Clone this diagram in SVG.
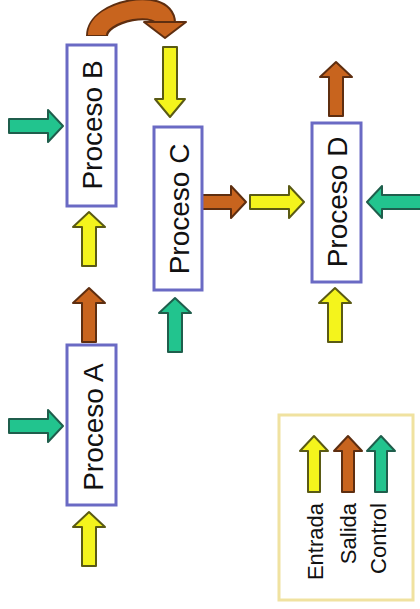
<svg xmlns="http://www.w3.org/2000/svg" xmlns:xlink="http://www.w3.org/1999/xlink" width="420" height="609" viewBox="0 0 420 609">
<style>
.box{fill:#ffffff;stroke:#6a6ac4;stroke-width:3}
.lbl{font-family:"Liberation Sans",Arial,sans-serif;font-size:28px;fill:#111;text-anchor:middle}
.leg{font-family:"Liberation Sans",Arial,sans-serif;font-size:22px;fill:#111;text-anchor:end}
.y{fill:#f4f41c;stroke:#5a5a14;stroke-width:2;stroke-linejoin:round}
.b{fill:#c8641e;stroke:#5e2e10;stroke-width:2;stroke-linejoin:round}
.g{fill:#22c48e;stroke:#1f5e4c;stroke-width:2;stroke-linejoin:round}
</style>
<defs>
<path id="a46" d="M0,0 L16,15 L7,15 L7,46 L-7,46 L-7,15 L-16,15 Z"/>
<path id="a54" d="M0,0 L16,15 L7,15 L7,54 L-7,54 L-7,15 L-16,15 Z"/>
<path id="a70" d="M0,0 L15,18 L7,18 L7,70 L-7,70 L-7,18 L-15,18 Z"/>
<path id="aL" d="M0,0 L14,15 L6,15 L6,56 L-6,56 L-6,15 L-14,15 Z"/>
</defs>
<rect width="420" height="609" fill="#ffffff"/>
<g id="connectors">
<use xlink:href="#a54" class="g" transform="translate(63,126) rotate(90)"/>
<use xlink:href="#a54" class="g" transform="translate(63,426) rotate(90)"/>
<use xlink:href="#a70" class="y" transform="translate(170,117) rotate(180)"/>
<use xlink:href="#a54" class="y" transform="translate(89,212)"/>
<use xlink:href="#a54" class="b" transform="translate(89,288)"/>
<use xlink:href="#a54" class="y" transform="translate(89,512)"/>
<use xlink:href="#a54" class="g" transform="translate(175,298)"/>
<use xlink:href="#a46" class="b" transform="translate(246,202) rotate(90)"/>
<use xlink:href="#a54" class="y" transform="translate(304,202) rotate(90)"/>
<use xlink:href="#a54" class="g" transform="translate(367,202) rotate(-90)"/>
<use xlink:href="#a54" class="b" transform="translate(336,62)"/>
<use xlink:href="#a54" class="y" transform="translate(335,288)"/>
<g id="curved">
<path d="M97,36 C97,10 165,-2 165,23" fill="none" stroke="#5e2e10" stroke-width="22"/>
<path d="M97,35 C97,10 165,-2 165,23" fill="none" stroke="#c8641e" stroke-width="18"/>
<path d="M144,22 L186,22 L165,38 Z" class="b"/>
</g>
</g>
<g id="procesoB"><rect class="box" x="67" y="45" width="49" height="161"/><text class="lbl" x="102" y="125" transform="rotate(-90 102 125)">Proceso B</text></g>
<g id="procesoC"><rect class="box" x="154" y="127" width="48" height="163"/><text class="lbl" x="189" y="209" transform="rotate(-90 189 209)">Proceso C</text></g>
<g id="procesoA"><rect class="box" x="67" y="345" width="49" height="160"/><text class="lbl" x="103" y="427" transform="rotate(-90 103 427)">Proceso A</text></g>
<g id="procesoD"><rect class="box" x="312" y="123" width="49" height="159"/><text class="lbl" x="347" y="202" transform="rotate(-90 347 202)">Proceso D</text></g>
<g id="legend">
<rect x="279" y="415" width="134" height="185" fill="#ffffff" stroke="#f0e2a0" stroke-width="3"/>
<use xlink:href="#aL" class="y" transform="translate(314,436)"/>
<use xlink:href="#aL" class="b" transform="translate(348,436)"/>
<use xlink:href="#aL" class="g" transform="translate(381,436)"/>
<text class="leg" x="323" y="503" transform="rotate(-90 323 503)">Entrada</text>
<text class="leg" x="356" y="503" transform="rotate(-90 356 503)">Salida</text>
<text class="leg" x="386" y="503" transform="rotate(-90 386 503)">Control</text>
</g>
</svg>
